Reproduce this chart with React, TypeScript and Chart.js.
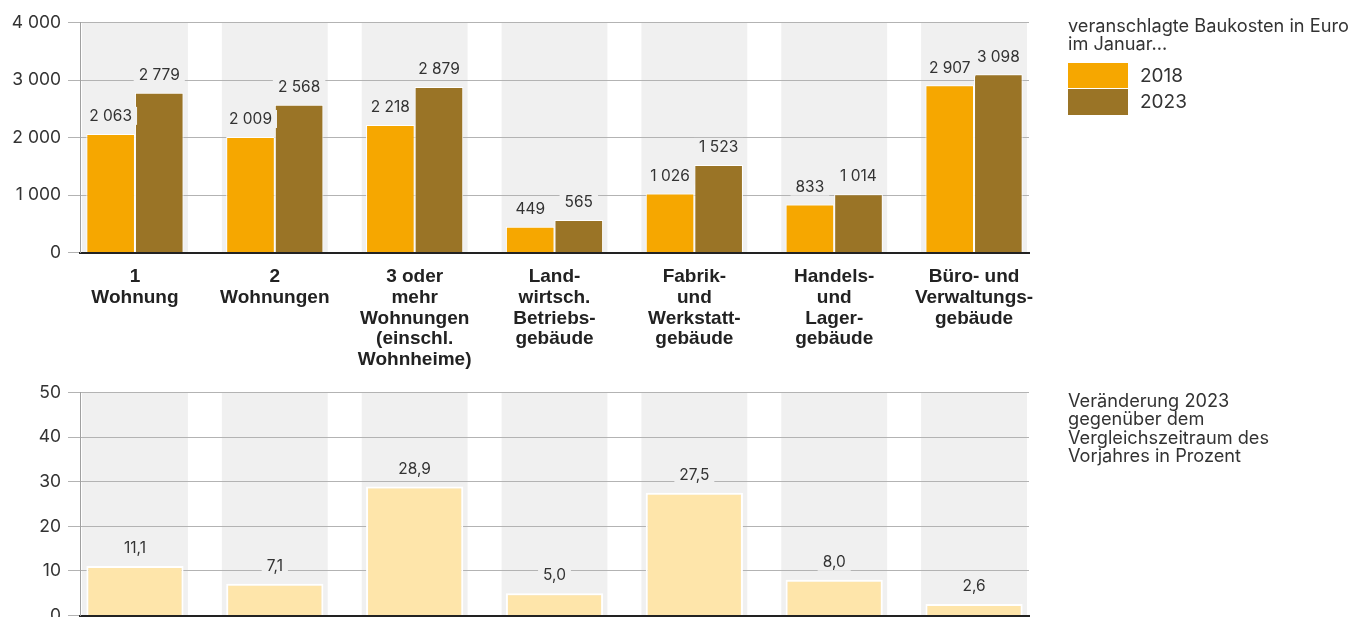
import React, { useEffect, useRef } from 'react';
import { Chart, registerables } from 'chart.js';

Chart.register(...registerables);

// ---------- data ----------
const categoryLabels: string[][] = [
  ['1', 'Wohnung'],
  ['2', 'Wohnungen'],
  ['3 oder', 'mehr', 'Wohnungen', '(einschl.', 'Wohnheime)'],
  ['Land-', 'wirtsch.', 'Betriebs-', 'gebäude'],
  ['Fabrik-', 'und', 'Werkstatt-', 'gebäude'],
  ['Handels-', 'und', 'Lager-', 'gebäude'],
  ['Büro- und', 'Verwaltungs-', 'gebäude'],
];
const seriesNames = ['2018', '2023'];
const costs2018 = [2063, 2009, 2218, 449, 1026, 833, 2907];
const costs2023 = [2779, 2568, 2879, 565, 1523, 1014, 3098];
const changePct = [11.1, 7.1, 28.9, 5.0, 27.5, 8.0, 2.6];
const costAxis = { min: 0, max: 4000, step: 1000 };
const pctAxis = { min: 0, max: 50, step: 10 };
const legendTitleTop = ['veranschlagte Baukosten in Euro', 'im Januar...'];
const legendTitleBottom = ['Veränderung 2023', 'gegenüber dem', 'Vergleichszeitraum des', 'Vorjahres in Prozent'];

// ---------- styles ----------
const FONT = 'Inter, "Liberation Sans", Arial, sans-serif';
const BOLD_FONT = '"Liberation Sans", Arial, sans-serif';
const BAND = '#f0f0f0';
const C2018 = '#f6a700';
const C2023 = '#9a7426';
const CPCT = '#fee5aa';
const TEXT = '#333333';

const fmtThousands = (v: number) => String(Math.round(v)).replace(/\B(?=(\d{3})+(?!\d))/g, ' ');
const fmtDecimal = (v: number) => v.toFixed(1).replace('.', ',');

const bandsPlugin = {
  id: 'bands',
  beforeDraw(chart: any) {
    const { ctx, chartArea, scales } = chart;
    const x = scales.x;
    const step = x.getPixelForValue(1) - x.getPixelForValue(0);
    const w = step * 0.757;
    ctx.save();
    ctx.fillStyle = BAND;
    categoryLabels.forEach((_, i) => {
      const cx = x.getPixelForValue(i);
      ctx.fillRect(cx - w / 2, chartArea.top, w, chartArea.bottom - chartArea.top);
    });
    ctx.restore();
  },
};

const makeLabelPlugin = (fmt: (v: number) => string) => ({
  id: 'barValueLabels',
  afterDatasetsDraw(chart: any) {
    const { ctx } = chart;
    ctx.save();
    ctx.font = `15.5px ${FONT}`;
    ctx.textAlign = 'center';
    ctx.textBaseline = 'middle';
    chart.data.datasets.forEach((ds: any, di: number) => {
      const meta = chart.getDatasetMeta(di);
      meta.data.forEach((bar: any, i: number) => {
        const v = ds.data[i].y;
        const txt = fmt(v);
        const cy = bar.y - 18;
        const tw = ctx.measureText(txt).width;
        ctx.fillStyle = BAND;
        ctx.fillRect(bar.x - tw / 2 - 5, cy - 9, tw + 10, 18);
        ctx.fillStyle = TEXT;
        ctx.fillText(txt, bar.x, cy + 0.5);
      });
    });
    ctx.restore();
  },
});

const xScale = (showLabels: boolean, height: number) => ({
  type: 'linear',
  offset: false,
  min: -0.393,
  max: categoryLabels.length - 1 + 0.393,
  bounds: 'data',
  afterBuildTicks: (s: any) => {
    s.ticks = categoryLabels.map((_, i) => ({ value: i }));
  },
  afterFit: (s: any) => {
    s.height = height;
  },
  grid: { display: false, drawTicks: false },
  border: { display: true, color: '#222222', width: 2 },
  ticks: {
    display: showLabels,
    autoSkip: false,
    maxRotation: 0,
    minRotation: 0,
    padding: 14,
    color: '#222222',
    font: { family: BOLD_FONT, size: 19, weight: 'bold', lineHeight: 1.09 },
    callback: (v: number) => categoryLabels[v] ?? '',
  },
});

const yScale = (ax: { min: number; max: number; step: number }, fmt: (v: number) => string) => ({
  min: ax.min,
  max: ax.max,
  afterFit: (s: any) => {
    s.width = 80;
  },
  grid: { color: '#b3b3b3', lineWidth: 1, tickLength: 12, drawTicks: true },
  border: { display: true, color: '#a0a0a0', width: 1 },
  ticks: {
    stepSize: ax.step,
    padding: 7,
    color: TEXT,
    font: { family: FONT, size: 17.5, lineHeight: 1.2 },
    callback: (v: number) => fmt(v),
  },
});

export default function App() {
  const topRef = useRef<HTMLCanvasElement>(null);
  const botRef = useRef<HTMLCanvasElement>(null);

  useEffect(() => {
    const top = new Chart(topRef.current as HTMLCanvasElement, {
      type: 'bar',
      data: {
        datasets: [
          {
            label: seriesNames[0],
            data: costs2018.map((v, i) => ({ x: i, y: v })),
            backgroundColor: C2018,
            borderColor: '#ffffff',
            borderWidth: 1,
          },
          {
            label: seriesNames[1],
            data: costs2023.map((v, i) => ({ x: i, y: v })),
            backgroundColor: C2023,
            borderColor: '#ffffff',
            borderWidth: 1,
          },
        ],
      },
      options: {
        responsive: false,
        animation: false,
        events: [],
        layout: { padding: { top: 22.5, right: 323, left: 0, bottom: 0 } },
        datasets: { bar: { categoryPercentage: 0.695, barPercentage: 1 } },
        plugins: { legend: { display: false }, tooltip: { enabled: false } },
        scales: {
          x: xScale(true, 127.5),
          y: yScale(costAxis, fmtThousands),
        },
      } as any,
      plugins: [bandsPlugin, makeLabelPlugin(fmtThousands)],
    });

    const bot = new Chart(botRef.current as HTMLCanvasElement, {
      type: 'bar',
      data: {
        datasets: [
          {
            label: 'Veränderung',
            data: changePct.map((v, i) => ({ x: i, y: v })),
            backgroundColor: CPCT,
            borderColor: '#ffffff',
            borderWidth: 2,
          },
        ],
      },
      options: {
        responsive: false,
        animation: false,
        events: [],
        layout: { padding: { top: 0, right: 323, left: 0, bottom: 0 } },
        datasets: { bar: { categoryPercentage: 0.695, barPercentage: 1 } },
        plugins: { legend: { display: false }, tooltip: { enabled: false } },
        scales: {
          x: xScale(false, 10),
          y: yScale(pctAxis, (v) => String(v)),
        },
      } as any,
      plugins: [bandsPlugin, makeLabelPlugin(fmtDecimal)],
    });

    return () => {
      top.destroy();
      bot.destroy();
    };
  }, []);

  const textStyle: React.CSSProperties = {
    position: 'absolute',
    left: 1068,
    fontFamily: FONT,
    fontSize: 18.2,
    color: TEXT,
    whiteSpace: 'nowrap',
  };

  return (
    <div
      style={{
        position: 'absolute',
        left: 0,
        top: 0,
        width: 1352,
        height: 617,
        overflow: 'hidden',
        background: '#ffffff',
      }}
    >
      <canvas ref={topRef} width={1352} height={380} style={{ position: 'absolute', left: 0, top: 0 }} />
      <canvas ref={botRef} width={1352} height={258} style={{ position: 'absolute', left: 0, top: 375 }} />

      <div style={{ ...textStyle, top: 16.1, lineHeight: '18px' }}>
        {legendTitleTop.map((t) => (
          <div key={t}>{t}</div>
        ))}
      </div>
      <div style={{ position: 'absolute', left: 1068, top: 63, width: 60, height: 25, background: C2018 }} />
      <div style={{ ...textStyle, left: 1140, top: 63, height: 25, fontSize: 19, lineHeight: '25px' }}>{seriesNames[0]}</div>
      <div style={{ position: 'absolute', left: 1068, top: 89, width: 60, height: 26, background: C2023 }} />
      <div style={{ ...textStyle, left: 1140, top: 89, height: 26, fontSize: 19, lineHeight: '26px' }}>{seriesNames[1]}</div>

      <div style={{ ...textStyle, top: 391.2, lineHeight: '18.3px' }}>
        {legendTitleBottom.map((t) => (
          <div key={t}>{t}</div>
        ))}
      </div>
    </div>
  );
}
